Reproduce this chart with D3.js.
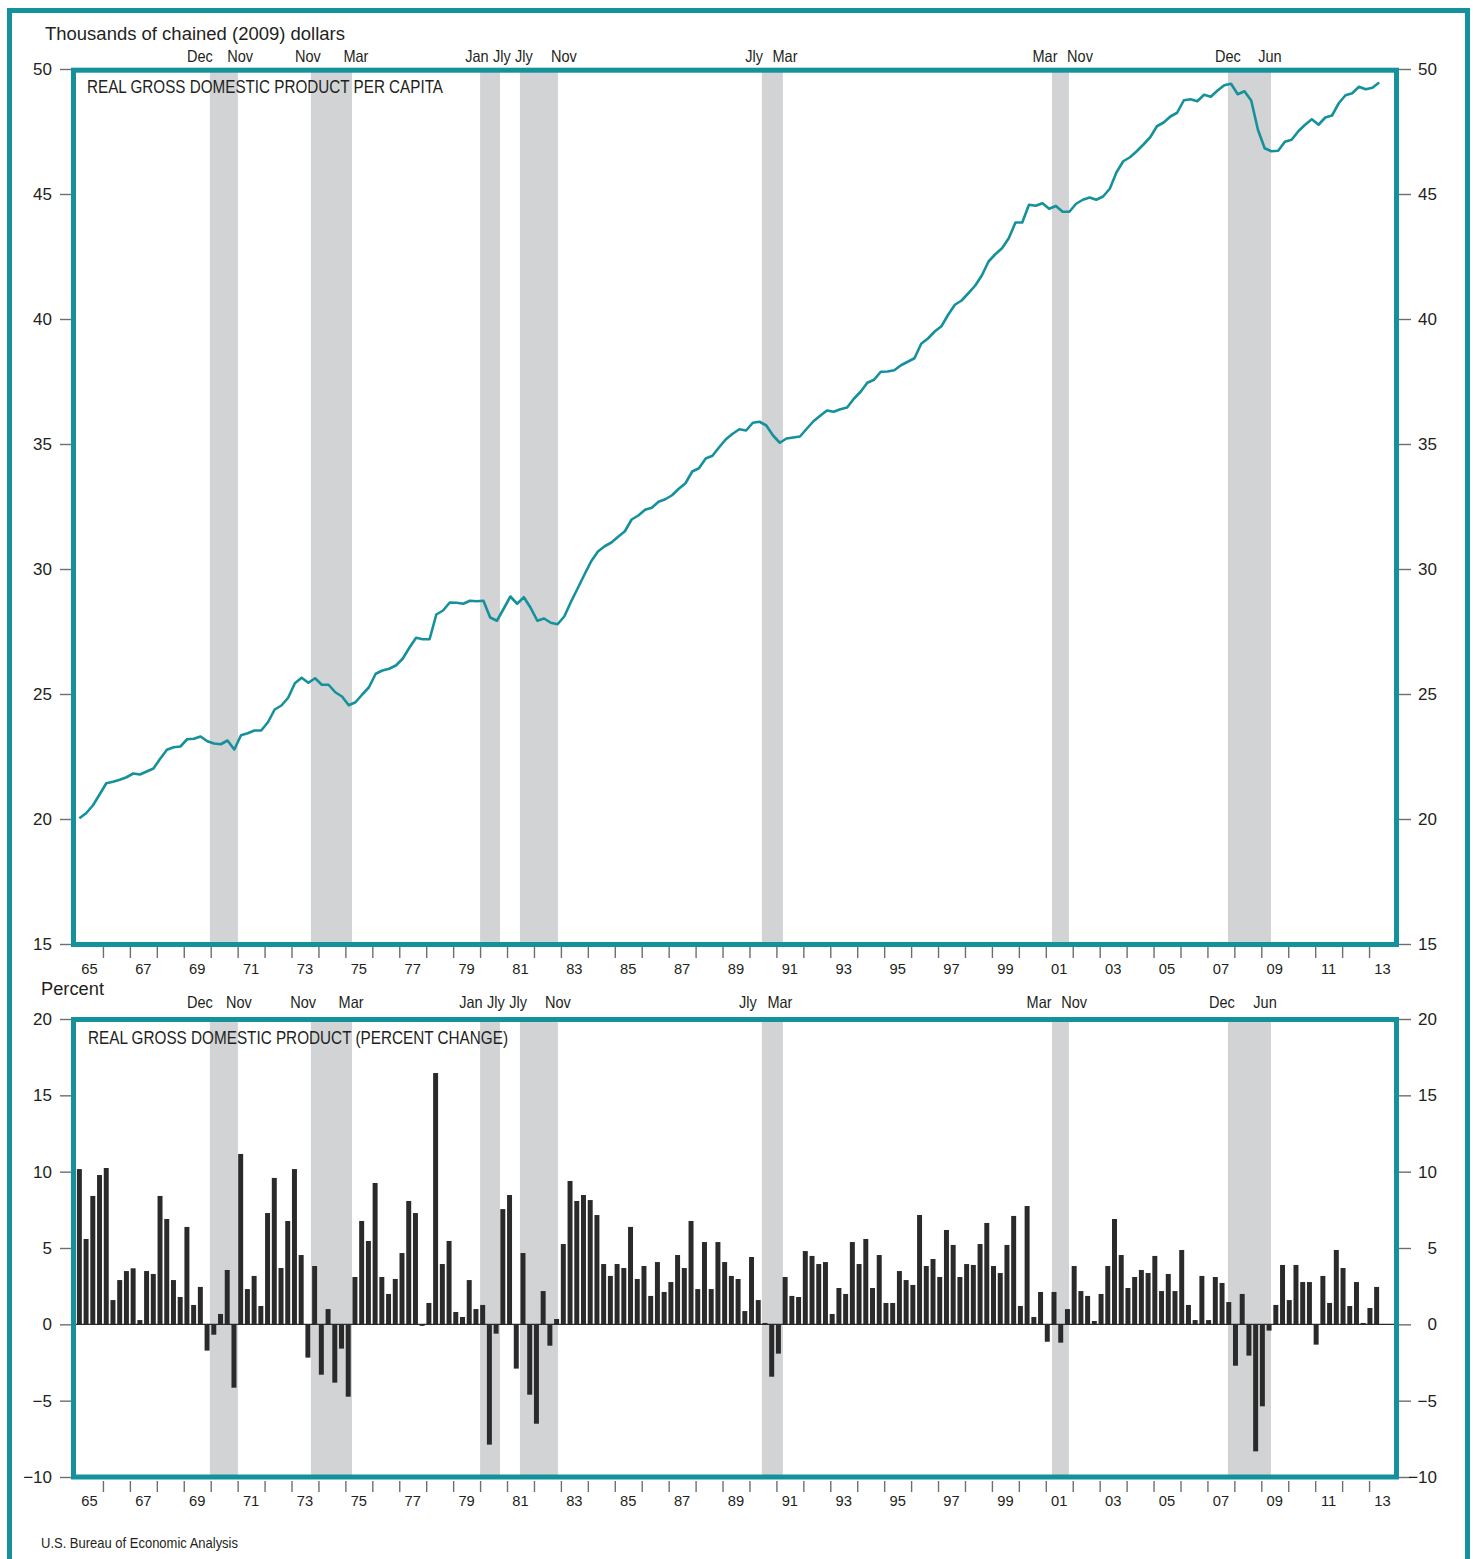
<!DOCTYPE html>
<html><head><meta charset="utf-8">
<script src="https://cdn.jsdelivr.net/npm/d3@7"></script>
<style>
body{margin:0;background:#fff}
svg text{font-family:"Liberation Sans",Arial,Helvetica,sans-serif;fill:#231f20}
</style>
</head><body>
<svg id="c" width="1473" height="1559"></svg>
<script>
// ---------- DATA ----------
const firstYear = 1965; // series start: 1965 Q1, quarterly to 2013 Q2
const quarters = d3.range(194).map(i => `${firstYear + Math.floor(i / 4)}Q${i % 4 + 1}`);

// Real GDP per capita, thousands of chained (2009) dollars
const gdpPerCapita = [
20.03,20.23,20.54,20.98,21.43,21.49,21.57,21.67,21.82,21.78,21.90,22.02,22.41,22.77,22.87,22.90,23.19,23.21,23.30,23.11,
23.02,22.99,23.14,22.78,23.35,23.43,23.54,23.54,23.87,24.38,24.54,24.85,25.43,25.65,25.45,25.63,25.37,25.37,25.07,24.90,
24.55,24.67,24.98,25.27,25.81,25.94,26.01,26.14,26.41,26.85,27.25,27.19,27.19,28.18,28.34,28.66,28.65,28.61,28.73,28.71,
28.73,28.06,27.93,28.41,28.90,28.61,28.87,28.45,27.93,28.02,27.85,27.79,28.10,28.69,29.23,29.78,30.31,30.70,30.91,31.06,
31.29,31.51,31.98,32.14,32.37,32.45,32.69,32.79,32.95,33.21,33.43,33.90,34.03,34.42,34.53,34.87,35.19,35.41,35.59,35.54,
35.85,35.89,35.74,35.34,35.05,35.22,35.26,35.30,35.61,35.91,36.13,36.34,36.29,36.39,36.46,36.81,37.09,37.45,37.57,37.89,
37.90,37.95,38.15,38.29,38.43,39.01,39.22,39.50,39.71,40.17,40.57,40.74,41.03,41.33,41.74,42.30,42.59,42.83,43.23,43.86,
43.86,44.57,44.53,44.63,44.41,44.52,44.29,44.29,44.61,44.77,44.86,44.77,44.90,45.21,45.87,46.31,46.47,46.71,46.98,47.27,
47.71,47.86,48.10,48.25,48.75,48.79,48.71,48.97,48.89,49.14,49.35,49.41,48.99,49.11,48.74,47.57,46.83,46.71,46.73,47.09,
47.17,47.51,47.77,47.99,47.77,48.06,48.14,48.63,48.95,49.03,49.29,49.19,49.25,49.46
];

// Real GDP, percent change at annual rate
const gdpChange = [
10.17,5.59,8.41,9.78,10.24,1.59,2.90,3.49,3.67,0.28,
3.49,3.30,8.41,6.90,2.90,1.79,6.38,1.27,2.45,-1.72,
-0.68,0.68,3.56,-4.15,11.16,2.31,3.17,1.20,7.29,9.59,
3.69,6.77,10.17,4.54,-2.18,3.82,-3.30,1.00,-3.82,-1.59,
-4.74,3.10,6.77,5.46,9.26,3.10,1.99,2.97,4.67,8.08,
7.29,-0.10,1.40,16.46,3.95,5.46,0.81,0.48,2.90,1.00,
1.27,-7.88,-0.61,7.55,8.47,-2.90,4.67,-4.61,-6.51,2.18,
-1.40,0.35,5.26,9.39,8.08,8.47,8.14,7.16,3.95,3.17,
3.95,3.69,6.38,2.97,3.82,1.86,4.08,2.12,2.77,4.54,
3.69,6.77,2.31,5.39,2.31,5.39,4.08,3.17,2.97,0.87,
4.41,1.59,0.09,-3.43,-1.92,3.10,1.86,1.79,4.80,4.48,
3.95,4.08,0.68,2.38,1.99,5.39,3.95,5.59,2.38,4.54,
1.40,1.40,3.49,2.90,2.58,7.16,3.82,4.28,3.10,6.18,
5.20,3.10,3.95,3.89,5.26,6.64,3.82,3.36,5.20,7.10,
1.20,7.75,0.48,2.12,-1.14,2.12,-1.20,1.00,3.82,2.18,
1.86,0.22,1.99,3.82,6.90,4.54,2.38,3.10,3.56,3.36,
4.48,2.18,3.30,2.18,4.87,1.27,0.28,3.17,0.28,3.10,
2.71,1.46,-2.71,1.99,-2.05,-8.32,-5.37,-0.41,1.27,3.89,
1.59,3.89,2.77,2.77,-1.33,3.17,1.40,4.87,3.69,1.20,
2.77,0.09,1.07,2.45
];

// Recessions (fractional years) and their month labels
const recStart = [1969.97, 1973.72, 1980.00, 1981.48, 1990.46, 2001.23, 2007.76];
const recEnd   = [1971.01, 1975.245, 1980.74, 1982.89, 1991.24, 2001.86, 2009.36];
const recStartLabel = ["Dec","Nov","Jan","Jly","Jly","Mar","Dec"];
const recEndLabel   = ["Nov","Mar","Jly","Nov","Mar","Nov","Jun"];
const recStartLabelAtTop = [1969.60,1973.61,1979.88,1981.63,1990.17,2000.97,2007.76];
const recEndLabelAtTop   = [1971.09,1975.39,1980.81,1983.11,1991.32,2002.27,2009.32];
const recStartLabelAtBot = [1969.60,1973.43,1979.66,1981.41,1989.94,2000.75,2007.54];
const recEndLabelAtBot   = [1971.05,1975.21,1980.59,1982.89,1991.13,2002.05,2009.14];

const yearTicks = d3.range(1966, 2014);
const yearLabelYears = d3.range(1965, 2014, 2);
const topTicks = [15,20,25,30,35,40,45,50];
const botTicks = [-10,-5,0,5,10,15,20];

// ---------- DRAW ----------
const teal = "#14919b", shade = "#d1d3d5", barCol = "#2b2a2b", tickCol = "#6d6e70";
const svg = d3.select("#c");

const x = d3.scaleLinear().domain([1965, 2014]).range([76, 1396]);
const xq = i => x(firstYear + i / 4 + 0.125);
const xBand = d3.scaleBand().domain(quarters).range([76, 1380]).paddingInner(0.26).paddingOuter(0.13);
const yTop = d3.scaleLinear().domain([15, 50]).range([944, 69]);
const yBot = d3.scaleLinear().domain([-10, 20]).range([1477, 1019]);

function condense(sel, f) {
  sel.each(function () {
    const w = this.getComputedTextLength();
    d3.select(this).attr("textLength", w * f).attr("lengthAdjust", "spacingAndGlyphs");
  });
}

// outer frame
svg.append("rect").attr("x", 9.5).attr("y", 10.5).attr("width", 1458).attr("height", 1620)
  .attr("fill", "none").attr("stroke", teal).attr("stroke-width", 5);

function panel(y, yTicksVals, frameTop, frameBot, labelStartAt, labelEndAt, labelY, axisY, yearLabelY) {
  const rec = recStart.map((s, i) => ({s, e: recEnd[i]}));
  svg.append("g").selectAll("rect").data(rec).join("rect")
    .attr("x", d => x(d.s)).attr("width", d => x(d.e) - x(d.s))
    .attr("y", frameTop).attr("height", frameBot - frameTop).attr("fill", shade);

  // recession labels
  const lg = svg.append("g").attr("font-size", 16.5);
  lg.selectAll("text.s").data(recStartLabel).join("text").attr("class", "s")
    .attr("x", (d, i) => x(labelStartAt[i])).attr("y", labelY).attr("text-anchor", "middle").text(d => d)
    .call(condense, 0.88);
  lg.selectAll("text.e").data(recEndLabel).join("text").attr("class", "e")
    .attr("x", (d, i) => x(labelEndAt[i])).attr("y", labelY).attr("text-anchor", "middle").text(d => d)
    .call(condense, 0.88);

  // y axes (left and right)
  const fmt = d3.format("d");
  const left = svg.append("g").attr("transform", "translate(72,0)")
    .call(d3.axisLeft(y).tickValues(yTicksVals).tickSize(12).tickPadding(8).tickFormat(fmt));
  const right = svg.append("g").attr("transform", "translate(1399,0)")
    .call(d3.axisRight(y).tickValues(yTicksVals).tickSize(12).tickFormat(fmt));
  [left, right].forEach(g => {
    g.select(".domain").remove();
    g.selectAll(".tick line").attr("stroke", tickCol).attr("stroke-width", 1.4);
    g.selectAll(".tick text").attr("font-size", 17).attr("font-family", "Liberation Sans, Arial, sans-serif")
      .attr("fill", "#231f20");
  });
  right.selectAll(".tick text").attr("text-anchor", "end").attr("x", 38);

  // x axis ticks
  const xa = svg.append("g").attr("transform", `translate(0,${axisY})`)
    .call(d3.axisBottom(x).tickValues(yearTicks).tickSize(11).tickFormat(""));
  xa.select(".domain").remove();
  xa.selectAll(".tick line").attr("stroke", tickCol).attr("stroke-width", 1.4);

  svg.append("g").attr("font-size", 15.5).selectAll("text").data(yearLabelYears).join("text")
    .attr("x", d => x(d + 0.5)).attr("y", yearLabelY).attr("dy", "0.35em").attr("text-anchor", "middle")
    .text(d => String(d % 100).padStart(2, "0"))
    .call(condense, 0.95);
}

// ----- top panel -----
panel(yTop, topTicks, 70, 944, recStartLabelAtTop, recEndLabelAtTop, 61.5, 947, 968.5);

svg.append("path").datum(gdpPerCapita)
  .attr("fill", "none").attr("stroke", teal).attr("stroke-width", 2.6).attr("stroke-linejoin", "round")
  .attr("d", d3.line().x((d, i) => xq(i)).y(d => yTop(d)));

svg.append("rect").attr("x", 73.5).attr("y", 70.2).attr("width", 1323).attr("height", 874.3)
  .attr("fill", "none").attr("stroke", teal).attr("stroke-width", 5);

svg.append("text").attr("x", 87).attr("y", 93.3).attr("font-size", 18)
  .attr("textLength", 356).attr("lengthAdjust", "spacingAndGlyphs")
  .text("REAL GROSS DOMESTIC PRODUCT PER CAPITA");
svg.append("text").attr("x", 45).attr("y", 39.5).attr("font-size", 17.5)
  .attr("textLength", 300).attr("lengthAdjust", "spacingAndGlyphs")
  .text("Thousands of chained (2009) dollars");

// ----- bottom panel -----
panel(yBot, botTicks, 1019.5, 1477, recStartLabelAtBot, recEndLabelAtBot, 1008, 1481, 1501);

svg.append("g").selectAll("rect").data(gdpChange).join("rect")
  .attr("x", (d, i) => xBand(quarters[i])).attr("width", xBand.bandwidth())
  .attr("y", d => yBot(Math.max(0, d))).attr("height", d => Math.abs(yBot(d) - yBot(0)))
  .attr("fill", barCol);

svg.append("line").attr("x1", 72).attr("x2", 1395).attr("y1", yBot(0)).attr("y2", yBot(0))
  .attr("stroke", "#2b2a2b").attr("stroke-width", 1.4);

svg.append("rect").attr("x", 73.5).attr("y", 1019.5).attr("width", 1323).attr("height", 457.5)
  .attr("fill", "none").attr("stroke", teal).attr("stroke-width", 5);

svg.append("text").attr("x", 88).attr("y", 1044).attr("font-size", 18)
  .attr("textLength", 420).attr("lengthAdjust", "spacingAndGlyphs")
  .text("REAL GROSS DOMESTIC PRODUCT (PERCENT CHANGE)");
svg.append("text").attr("x", 41).attr("y", 995).attr("font-size", 17.5)
  .attr("textLength", 63).attr("lengthAdjust", "spacingAndGlyphs").text("Percent");

svg.append("text").attr("x", 41).attr("y", 1548).attr("font-size", 14.5)
  .attr("textLength", 197).attr("lengthAdjust", "spacingAndGlyphs")
  .text("U.S. Bureau of Economic Analysis");
</script>
</body></html>
